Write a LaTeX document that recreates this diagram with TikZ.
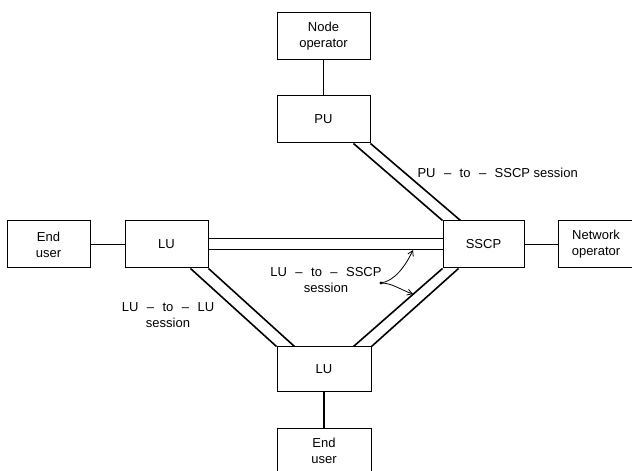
\documentclass[tikz,border=0pt]{standalone}
\usepackage{fontspec}
\setmainfont{Liberation Sans}
\usetikzlibrary{arrows.meta,calc}
\newcommand{\sdash}{\hspace{0.65em}--\hspace{0.65em}}

\begin{document}
\begin{tikzpicture}[x=1pt, y=1pt, font=\fontsize{13}{16}\selectfont,
  box/.style={draw, line width=1pt, align=center, inner sep=0pt,
    minimum width=93pt, minimum height=47pt},
  link/.style={line width=1.2pt},
  pipe/.style={line width=1.6pt},
  note/.style={align=center},
  pointer/.style={line width=0.8pt, -{Straight Barb[length=5pt,width=6pt]}}]

\useasboundingbox (0,0) rectangle (632,471);

% Boxes
\node[box] (nodeop) at (323.5,434.5) {Node\\operator};
\node[box] (pu) at (323.5,351.5) {PU};
\node[box, minimum width=83pt] (eu1) at (48.5,226.5) {End\\user};
\node[box, minimum width=83pt] (lu1) at (166.5,226.5) {LU};
\node[box, minimum width=81pt] (sscp) at (483.5,226.5) {SSCP};
\node[box, minimum width=76pt] (netop) at (596,226.5) {Network\\operator};
\node[box, minimum width=94pt, minimum height=45pt] (lu2) at (324,101.5) {LU};
\node[box, minimum width=94pt, minimum height=43pt] (eu2) at (324,20.5) {End\\user};

% Plain links
\draw[link] (nodeop) -- (pu);
\draw[link] (eu1) -- (lu1);
\draw[link] (sscp) -- (netop);
\draw[link] (lu2) -- (eu2);

% Sessions (two parallel rules each)
\draw[pipe] ([xshift=-17pt]pu.south east) -- (sscp.north west);
\draw[pipe] (pu.south east) -- ([xshift=18pt]sscp.north west);
\draw[pipe] ([yshift=6pt]lu1.east) -- ([yshift=6pt]lu1.east -| sscp.west);
\draw[pipe] ([yshift=-5pt]lu1.east) -- ([yshift=-5pt]lu1.east -| sscp.west);
\draw[pipe] ([xshift=-18pt]lu1.south east) -- (lu2.north west);
\draw[pipe] (lu1.south east) -- ([xshift=18pt]lu2.north west);
\draw[pipe] (sscp.south west) -- ([xshift=-18pt]lu2.north east);
\draw[pipe] ([xshift=16pt]sscp.south west) -- (lu2.north east);

% Labels
\node[anchor=west] (pulbl) at (414,298) {PU\sdash to\sdash SSCP session};
\node[note] (lulbl) at (168,156) {LU\sdash to\sdash LU\\session};
\node[note] (sscplbl) at (326,191) {LU\sdash to\sdash SSCP\\session};

% Pointers to the LU-SSCP sessions
\coordinate (src) at (381,188);
\coordinate (tip1) at (413,221);
\coordinate (tip2) at (413,177);
\draw[pointer] (src) .. controls (395,190) and (406,206) .. (tip1);
\draw[pointer] (src) .. controls (392,188) and (401,181) .. (tip2);
\fill (src) circle (1.6pt);

\end{tikzpicture}
\end{document}
